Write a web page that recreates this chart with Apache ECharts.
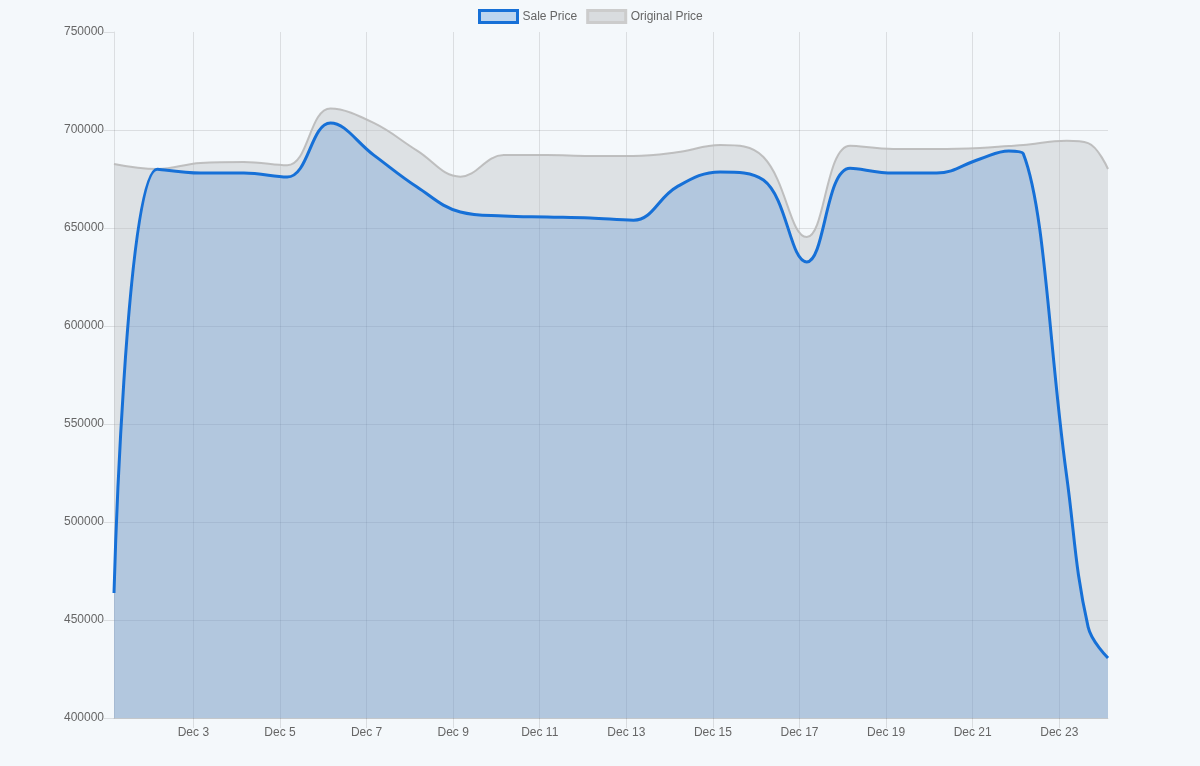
<!DOCTYPE html>
<html>
<head>
<meta charset="utf-8">
<script src="https://cdn.jsdelivr.net/npm/echarts@6/dist/echarts.min.js"></script>
<style>
html,body{margin:0;padding:0;background:#f4f8fb;}
#chart{width:1200px;height:766px;}
</style>
</head>
<body>
<div id="chart"></div>
<script>
// Time stamps of the price snapshots
const times = [
  '2023-12-01 04:00','2023-12-02 04:00','2023-12-03 04:00','2023-12-04 04:00',
  '2023-12-05 04:00','2023-12-06 04:00','2023-12-07 04:00','2023-12-08 04:00',
  '2023-12-09 04:00','2023-12-10 04:00','2023-12-11 04:00','2023-12-12 04:00',
  '2023-12-13 04:00','2023-12-14 04:00','2023-12-15 04:00','2023-12-16 04:00',
  '2023-12-17 04:00','2023-12-18 04:00','2023-12-19 04:00','2023-12-20 04:00',
  '2023-12-21 04:00','2023-12-21 20:00','2023-12-22 04:00','2023-12-23 04:00',
  '2023-12-23 16:00','2023-12-24 03:00'
];
const salePrice = [
  463800, 680000, 678000, 678000, 676000, 703600, 687200, 670900,
  658200, 656100, 655600, 655100, 654000, 671000, 678600, 674500,
  632700, 680500, 678000, 678000, 685200, 689300, 688000, 524000,
  446400, 430600
];
const originalPrice = [
  682700, 680100, 683200, 683700, 682000, 711000, 703600, 689500,
  676200, 687200, 687200, 686700, 686700, 688600, 692300, 686200,
  645400, 692000, 690300, 690300, 690800, 691800, 692300, 694500,
  693300, 680100
];
// x-axis tick labels (every second day)
const tickDates = ['2023-12-03','2023-12-05','2023-12-07','2023-12-09','2023-12-11',
  '2023-12-13','2023-12-15','2023-12-17','2023-12-19','2023-12-21','2023-12-23'];
const xMin = '2023-12-01 04:00';
const xMax = '2023-12-24 03:00';
const yMin = 400000, yMax = 750000, yStep = 50000;

const months = ['Jan','Feb','Mar','Apr','May','Jun','Jul','Aug','Sep','Oct','Nov','Dec'];
function toTs(s){ const p = s.split(/[- :]/).map(Number); return new Date(p[0], p[1]-1, p[2], p[3]||0, p[4]||0).getTime(); }
const tickTs = tickDates.map(toTs);

const chart = echarts.init(document.getElementById('chart'), null, {renderer:'canvas'});
const gridColor = 'rgba(0,0,0,0.1)';
const font = 'Liberation Sans, Arial, sans-serif';
chart.setOption({
  backgroundColor: '#f4f8fb',
  animation: false,
  textStyle: {fontFamily: font},
  legend: {
    top: 4,
    left: 473,
    itemWidth: 38,
    itemHeight: 12,
    itemGap: 9,
    icon: 'rect',
    textStyle: {color: '#666', fontSize: 12, fontFamily: font},
    data: [
      {name: 'Sale Price', itemStyle: {color: '#bcd5ef', borderColor: '#1670d7', borderWidth: 3}},
      {name: 'Original Price', itemStyle: {color: '#d9dcdf', borderColor: '#cccccc', borderWidth: 3}}
    ]
  },
  grid: {left: 114, right: 92, top: 32, bottom: 48, containLabel: false},
  xAxis: {
    type: 'value',
    min: toTs(xMin),
    max: toTs(xMax),
    axisLine: {show: true, lineStyle: {color: gridColor}},
    axisTick: {show: true, length: 10, customValues: tickTs, lineStyle: {color: gridColor}},
    axisLabel: {
      customValues: tickTs,
      color: '#666', fontSize: 12, margin: 9,
      fontFamily: font,
      formatter: function(v){ const d = new Date(v); return months[d.getMonth()] + ' ' + d.getDate(); }
    },
    splitLine: {show: true, lineStyle: {color: gridColor}}
  },
  yAxis: {
    type: 'value',
    min: yMin, max: yMax, interval: yStep,
    axisLine: {show: true, lineStyle: {color: gridColor}},
    axisTick: {show: true, length: 10, lineStyle: {color: gridColor}},
    axisLabel: {color: '#666', fontSize: 12, margin: 10, fontFamily: font,
      formatter: function(v){ return String(v); }},
    splitLine: {show: true, showMaxLine: false, lineStyle: {color: gridColor}}
  },
  series: [
    {
      name: 'Original Price',
      type: 'line',
      smooth: 0.4,
      showSymbol: false,
      symbol: 'none',
      z: 2,
      data: times.map((t,i)=>[toTs(t), originalPrice[i]]),
      lineStyle: {color: 'rgba(185,185,185,0.9)', width: 2},
      itemStyle: {color: '#cccccc'},
      areaStyle: {color: 'rgba(185,188,192,0.55)', origin: 'start'}
    },
    {
      name: 'Sale Price',
      type: 'line',
      smooth: 0.4,
      showSymbol: false,
      symbol: 'none',
      z: 3,
      data: times.map((t,i)=>[toTs(t), salePrice[i]]),
      lineStyle: {color: '#1670d7', width: 3},
      itemStyle: {color: '#1670d7'},
      areaStyle: {color: 'rgba(21,105,205,0.3)', origin: 'start'}
    }
  ]
});
</script>
</body>
</html>
